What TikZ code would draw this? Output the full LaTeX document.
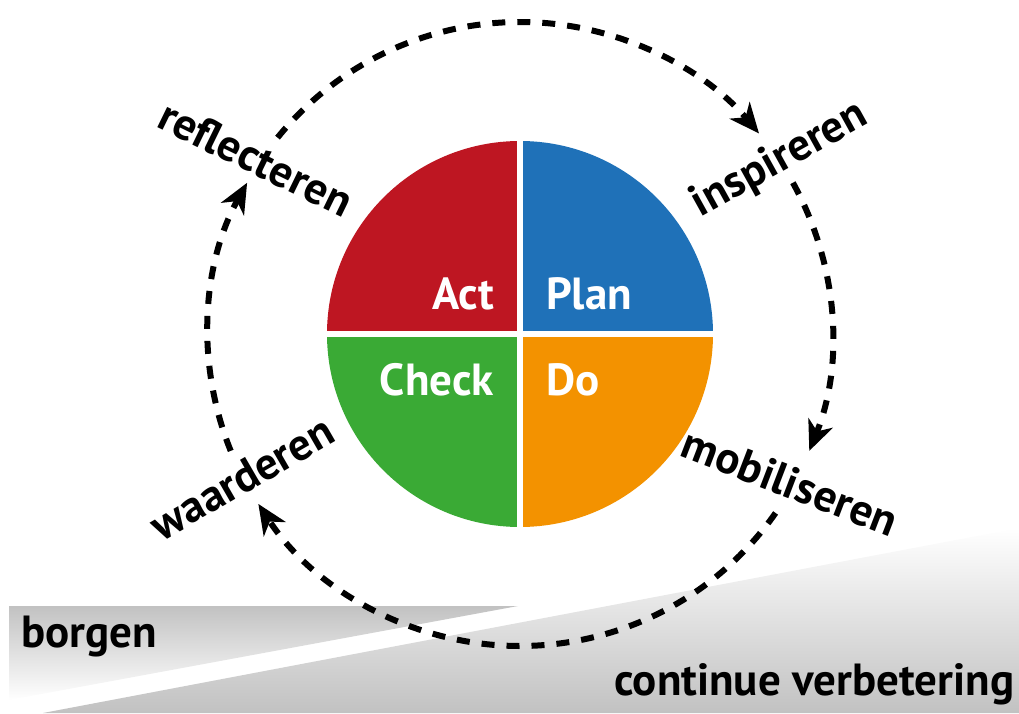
\documentclass[tikz,border=0pt]{standalone}
\usepackage{fontspec}
\setmainfont{PT Sans}
\usetikzlibrary{arrows.meta,calc}
\definecolor{actred}{HTML}{BE1622}
\definecolor{planblue}{HTML}{1F71B8}
\definecolor{doorange}{HTML}{F39200}
\definecolor{checkgreen}{HTML}{3AAA35}
\tikzset{
  cyclearc/.style={line width=6pt,dash pattern=on 13pt off 12pt,
    -{Stealth[length=30pt,width=26pt,inset=9pt]}},
  quadlabel/.style={text=white,font=\fontsize{45}{54}\selectfont\bfseries,inner sep=0pt},
  steplabel/.style={font=\fontsize{45}{54}\selectfont\bfseries,inner sep=0pt},
  bandlabel/.style={font=\fontsize{45}{54}\selectfont\bfseries,inner sep=0pt},
}
\begin{document}
\begin{tikzpicture}[x=1pt,y=1pt]
\useasboundingbox (0,0) rectangle (1019,713);
% grey bands
\shade[top color=black!24,middle color=black!20,bottom color=white]
  (9,107) -- (518,107) -- (9,13) -- cycle;
\shade[top color=white,middle color=black!15,bottom color=black!24]
  (43,0) -- (1019,185) -- (1019,0) -- cycle;
\coordinate (C) at (520,379);
% dashed cycle arcs
\coordinate (a1) at ($(C)+(141:312)$);
\coordinate (a2) at ($(C)+(29:312)$);
\coordinate (a3) at ($(C)+(-35:312)$);
\coordinate (a4) at ($(C)+(202:312)$);
\draw[cyclearc] (a1) arc[start angle=141,end angle=40,radius=312];
\draw[cyclearc] (a2) arc[start angle=29,end angle=-22,radius=312];
\draw[cyclearc] (a3) arc[start angle=-35,end angle=-147,radius=312];
\draw[cyclearc] (a4) arc[start angle=202,end angle=151,radius=312];
% PDCA pie
\fill[actred] (C) -- ++(90:193) arc[start angle=90,end angle=180,radius=193] -- cycle;
\fill[planblue] (C) -- ++(0:193) arc[start angle=0,end angle=90,radius=193] -- cycle;
\fill[doorange] (C) -- ++(-90:193) arc[start angle=-90,end angle=0,radius=193] -- cycle;
\fill[checkgreen] (C) -- ++(180:193) arc[start angle=180,end angle=270,radius=193] -- cycle;
\draw[white,line width=6pt] ($(C)+(-200,0)$) -- ($(C)+(200,0)$);
\draw[white,line width=6pt] ($(C)+(0,-200)$) -- ($(C)+(0,200)$);
\node[quadlabel,anchor=base east] (act) at (494,403) {Act};
\node[quadlabel,anchor=base west] (plan) at (546,403) {Plan};
\node[quadlabel,anchor=base east] (check) at (494,318) {Check};
\node[quadlabel,anchor=base west] (do) at (546,318) {Do};
% step labels
\node[steplabel,rotate=-26] (reflect) at (256,555) {reflecteren};
\node[steplabel,rotate=29] (inspire) at (780,553) {inspireren};
\node[steplabel,rotate=-21] (mobil) at (790,231) {mobiliseren};
\node[steplabel,rotate=30] (waard) at (242,235) {waarderen};
% band labels
\node[bandlabel,anchor=base west] (borg) at (21,66) {borgen};
\node[bandlabel,anchor=base west] (cont) at (614,18) {continue verbetering};
\end{tikzpicture}
\end{document}
